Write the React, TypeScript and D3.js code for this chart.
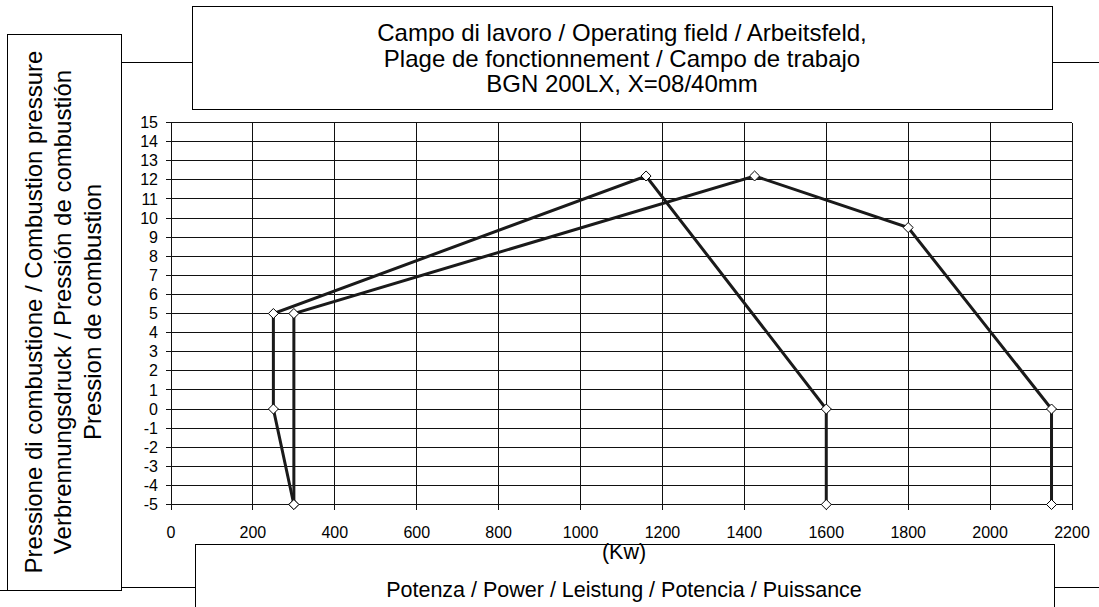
import React from "react";
import * as d3 from "d3";

// operating field BGN 200LX
const powerTicks = [0, 200, 400, 600, 800, 1000, 1200, 1400, 1600, 1800, 2000, 2200];
const pressureTicks = [-5, -4, -3, -2, -1, 0, 1, 2, 3, 4, 5, 6, 7, 8, 9, 10, 11, 12, 13, 14, 15];

const fieldA_kw = [300, 250, 250, 1160, 1600, 1600];
const fieldA_mbar = [-5, 0, 5, 12.2, 0, -5];
const fieldB_kw = [300, 300, 1425, 1800, 2150, 2150];
const fieldB_mbar = [-5, 5, 12.2, 9.5, 0, -5];

const titleLines = [
  "Campo di lavoro / Operating field / Arbeitsfeld,",
  "Plage de fonctionnement / Campo de trabajo",
  "BGN 200LX, X=08/40mm",
];
const yTitleLines = [
  "Pressione di combustione / Combustion pressure",
  "Verbrennungsdruck / Pressión de combustión",
  "Pression de combustion",
];
const xTitleLines = ["(Kw)", "Potenza / Power / Leistung / Potencia / Puissance"];

const FONT = "'Liberation Sans', Arial, sans-serif";

const App = () => {
  const width = 1099;
  const height = 607;
  const x = d3.scaleLinear().domain([0, 2200]).range([171, 1072]);
  const y = d3.scaleLinear().domain([-5, 15]).range([504.5, 122.5]);

  const line = d3
    .line<[number, number]>()
    .x((d) => x(d[0]))
    .y((d) => y(d[1]));

  const seriesA = fieldA_kw.map((k, i) => [k, fieldA_mbar[i]] as [number, number]);
  const seriesB = fieldB_kw.map((k, i) => [k, fieldB_mbar[i]] as [number, number]);
  const diamond = d3.symbol().type(d3.symbolDiamond2).size(64)();

  return (
    <svg
      width={width}
      height={height}
      style={{ position: "absolute", left: 0, top: 0, background: "#fff" }}
      fontFamily={FONT}
    >
      {/* grid */}
      <g stroke="#111" strokeWidth={1} shapeRendering="crispEdges">
        {pressureTicks.map((t) => (
          <line key={"h" + t} x1={x(0) - 5} x2={x(2200)} y1={y(t)} y2={y(t)} />
        ))}
        {powerTicks.map((t) => (
          <line key={"v" + t} x1={x(t)} x2={x(t)} y1={y(15)} y2={y(-5) + 5} />
        ))}
      </g>
      {/* tick labels */}
      <g fontSize={16} fill="#000">
        {pressureTicks.map((t) => (
          <text key={"yl" + t} x={x(0) - 13} y={y(t)} dy="0.35em" textAnchor="end">
            {t}
          </text>
        ))}
        {powerTicks.map((t) => (
          <text key={"xl" + t} x={x(t)} y={y(-5) + 33} textAnchor="middle">
            {t}
          </text>
        ))}
      </g>
      {/* field curves */}
      {[seriesA, seriesB].map((s, i) => (
        <g key={"s" + i}>
          <path d={line(s) || ""} fill="none" stroke="#1a1a1a" strokeWidth={3} />
          {s.map((d, j) => (
            <path
              key={j}
              d={diamond || ""}
              transform={`translate(${x(d[0])},${y(d[1])})`}
              fill="#fff"
              stroke="#000"
              strokeWidth={1}
            />
          ))}
        </g>
      ))}

      {/* connector lines */}
      <g stroke="#000" strokeWidth={1} shapeRendering="crispEdges">
        <line x1={121} x2={192} y1={62} y2={62} />
        <line x1={1052} x2={1099} y1={62} y2={62} />
        <line x1={121} x2={195} y1={587} y2={587} />
        <line x1={1054} x2={1099} y1={587} y2={587} />
        <line x1={0} x2={7} y1={590} y2={590} />
      </g>

      {/* title box */}
      <rect x={192} y={6} width={860} height={103} fill="#fff" stroke="#000" strokeWidth={1} shapeRendering="crispEdges" />
      <g fontSize={24} textAnchor="middle">
        {titleLines.map((t, i) => (
          <text key={t} x={622} y={41 + i * 25.5}>
            {t}
          </text>
        ))}
      </g>

      {/* y title box */}
      <rect x={7} y={34} width={114} height={556} fill="#fff" stroke="#000" strokeWidth={1} shapeRendering="crispEdges" />
      <g fontSize={24} textAnchor="middle">
        {yTitleLines.map((t, i) => (
          <text key={t} transform={`translate(${41.5 + i * 29.5},312) rotate(-90)`}>
            {t}
          </text>
        ))}
      </g>

      {/* x title box */}
      <rect x={195} y={544} width={859} height={80} fill="#fff" stroke="#000" strokeWidth={1} shapeRendering="crispEdges" />
      <g fontSize={21.5} textAnchor="middle">
        {xTitleLines.map((t, i) => (
          <text key={t} x={624} y={559 + i * 38}>
            {t}
          </text>
        ))}
      </g>
    </svg>
  );
};

export default App;
